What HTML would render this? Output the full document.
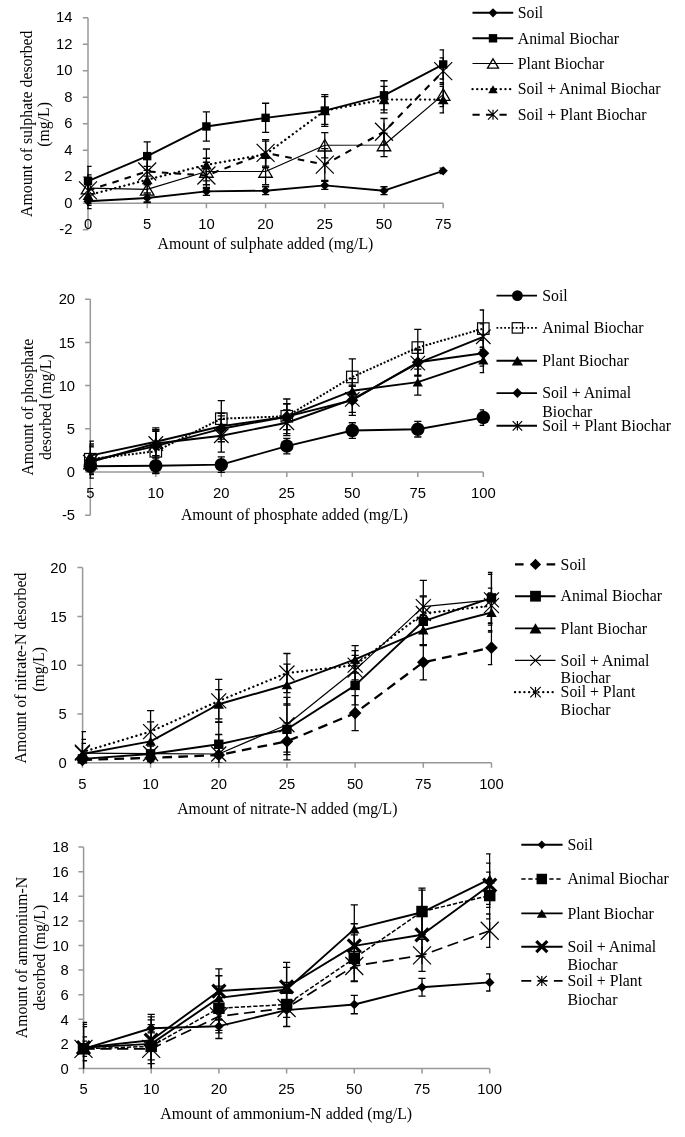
<!DOCTYPE html>
<html><head><meta charset="utf-8"><style>
html,body{margin:0;padding:0;background:#fff;}
svg{display:block;will-change:transform;}
.s{font-family:"Liberation Serif",serif;font-size:15.8px;fill:#000;}
.t{font-family:"Liberation Sans",sans-serif;font-size:14.8px;fill:#000;}
</style></head><body>
<svg width="685" height="1137" viewBox="0 0 685 1137">
<rect width="685" height="1137" fill="#fff"/>
<path d="M88 17.8V229.8" stroke="#989898" stroke-width="1.5" fill="none"/>
<path d="M82.8 229.8H88M82.8 203.3H88M82.8 176.8H88M82.8 150.3H88M82.8 123.8H88M82.8 97.3H88M82.8 70.8H88M82.8 44.3H88M82.8 17.8H88" stroke="#989898" stroke-width="1.5" fill="none"/>
<path d="M88 203.3H443.2" stroke="#989898" stroke-width="1.5" fill="none"/>
<path d="M88 203.3v5M147.2 203.3v5M206.4 203.3v5M265.6 203.3v5M324.8 203.3v5M384 203.3v5M443.2 203.3v5" stroke="#989898" stroke-width="1.5" fill="none"/>
<text x="72.4" y="234.3" class="t" text-anchor="end">-2</text>
<text x="72.4" y="207.8" class="t" text-anchor="end">0</text>
<text x="72.4" y="181.3" class="t" text-anchor="end">2</text>
<text x="72.4" y="154.8" class="t" text-anchor="end">4</text>
<text x="72.4" y="128.3" class="t" text-anchor="end">6</text>
<text x="72.4" y="101.8" class="t" text-anchor="end">8</text>
<text x="72.4" y="75.3" class="t" text-anchor="end">10</text>
<text x="72.4" y="48.8" class="t" text-anchor="end">12</text>
<text x="72.4" y="22.3" class="t" text-anchor="end">14</text>
<text x="88" y="228.8" class="t" text-anchor="middle">0</text>
<text x="147.2" y="228.8" class="t" text-anchor="middle">5</text>
<text x="206.4" y="228.8" class="t" text-anchor="middle">10</text>
<text x="265.6" y="228.8" class="t" text-anchor="middle">20</text>
<text x="324.8" y="228.8" class="t" text-anchor="middle">25</text>
<text x="384" y="228.8" class="t" text-anchor="middle">50</text>
<text x="443.2" y="228.8" class="t" text-anchor="middle">75</text>
<text x="265.4" y="248.5" class="s" text-anchor="middle">Amount of sulphate added (mg/L)</text>
<text transform="translate(31.7 123.7) rotate(-90)" class="s" text-anchor="middle">Amount of sulphate desorbed</text>
<text transform="translate(49.3 124.4) rotate(-90)" class="s" text-anchor="middle">(mg/L)</text>
<clipPath id="clip23"><rect x="87.1" y="17.8" width="357" height="212"/></clipPath>
<g clip-path="url(#clip23)">
<path d="M88 197.34V205.29M84.4 197.34h7.2M84.4 205.29h7.2M147.2 194.03V201.98M143.6 194.03h7.2M143.6 201.98h7.2M206.4 187.4V195.35M202.8 187.4h7.2M202.8 195.35h7.2M265.6 186.74V194.69M262 186.74h7.2M262 194.69h7.2M324.8 181.44V189.39M321.2 181.44h7.2M321.2 189.39h7.2M384 186.74V194.69M380.4 186.74h7.2M380.4 194.69h7.2M443.2 168.19V173.49M439.6 168.19h7.2M439.6 173.49h7.2" stroke="#000" stroke-width="1.3" fill="none"/>
<path d="M88 166.47V195.62M84.4 166.47h7.2M84.4 195.62h7.2M147.2 141.95V170.31M143.6 141.95h7.2M143.6 170.31h7.2M206.4 111.88V141.03M202.8 111.88h7.2M202.8 141.03h7.2M265.6 103.26V132.41M262 103.26h7.2M262 132.41h7.2M324.8 96.64V124.46M321.2 96.64h7.2M321.2 124.46h7.2M384 80.74V109.89M380.4 80.74h7.2M380.4 109.89h7.2M443.2 49.87V79.02M439.6 49.87h7.2M439.6 79.02h7.2" stroke="#000" stroke-width="1.3" fill="none"/>
<path d="M88 174.81V201.31M84.4 174.81h7.2M84.4 201.31h7.2M147.2 176.14V202.64M143.6 176.14h7.2M143.6 202.64h7.2M206.4 158.25V184.75M202.8 158.25h7.2M202.8 184.75h7.2M265.6 158.25V184.75M262 158.25h7.2M262 184.75h7.2M324.8 132.68V157.85M321.2 132.68h7.2M321.2 157.85h7.2M384 133.47V156.53M380.4 133.47h7.2M380.4 156.53h7.2M443.2 82.73V106.58M439.6 82.73h7.2M439.6 106.58h7.2" stroke="#000" stroke-width="1.3" fill="none"/>
<path d="M88 182.1V208.6M84.4 182.1h7.2M84.4 208.6h7.2M147.2 166.47V192.97M143.6 166.47h7.2M143.6 192.97h7.2M206.4 148.98V180.78M202.8 148.98h7.2M202.8 180.78h7.2M265.6 141.03V167.53M262 141.03h7.2M262 167.53h7.2M324.8 94.65V126.45M321.2 94.65h7.2M321.2 126.45h7.2M384 86.3V112.8M380.4 86.3h7.2M380.4 112.8h7.2M443.2 86.3V112.8M439.6 86.3h7.2M439.6 112.8h7.2" stroke="#000" stroke-width="1.3" fill="none"/>
<path d="M88 177.2V203.7M84.4 177.2h7.2M84.4 203.7h7.2M147.2 158.25V184.75M143.6 158.25h7.2M143.6 184.75h7.2M206.4 162.23V188.73M202.8 162.23h7.2M202.8 188.73h7.2M265.6 139.7V166.2M262 139.7h7.2M262 166.2h7.2M324.8 148.71V180.51M321.2 148.71h7.2M321.2 180.51h7.2M384 118.5V145M380.4 118.5h7.2M380.4 145h7.2M443.2 57.95V84.45M439.6 57.95h7.2M439.6 84.45h7.2" stroke="#000" stroke-width="1.3" fill="none"/>
</g>
<polyline points="88,201.31 147.2,198 206.4,191.38 265.6,190.71 324.8,185.41 384,190.71 443.2,170.84" stroke="#000" stroke-width="1.9" fill="none" stroke-linejoin="round"/>
<polyline points="88,181.04 147.2,156.13 206.4,126.45 265.6,117.84 324.8,110.55 384,95.31 443.2,64.44" stroke="#000" stroke-width="1.9" fill="none" stroke-linejoin="round"/>
<polyline points="88,188.06 147.2,189.39 206.4,171.5 265.6,171.5 324.8,145.27 384,145 443.2,94.65" stroke="#000" stroke-width="1.2" fill="none" stroke-linejoin="round"/>
<polyline points="88,195.35 147.2,179.72 206.4,164.88 265.6,154.28 324.8,110.55 384,99.55 443.2,99.55" stroke="#000" stroke-width="2.3" fill="none" stroke-linejoin="round" stroke-dasharray="0.1 4.6" stroke-linecap="round"/>
<polyline points="88,190.45 147.2,171.5 206.4,175.48 265.6,152.95 324.8,164.61 384,131.75 443.2,71.2" stroke="#000" stroke-width="2.1" fill="none" stroke-linejoin="round" stroke-dasharray="6.6 6.2"/>
<path d="M88 196.71L92.6 201.31L88 205.91L83.4 201.31Z" fill="#000"/>
<path d="M147.2 193.4L151.8 198L147.2 202.6L142.6 198Z" fill="#000"/>
<path d="M206.4 186.78L211 191.38L206.4 195.97L201.8 191.38Z" fill="#000"/>
<path d="M265.6 186.11L270.2 190.71L265.6 195.31L261 190.71Z" fill="#000"/>
<path d="M324.8 180.81L329.4 185.41L324.8 190.01L320.2 185.41Z" fill="#000"/>
<path d="M384 186.11L388.6 190.71L384 195.31L379.4 190.71Z" fill="#000"/>
<path d="M443.2 166.24L447.8 170.84L443.2 175.44L438.6 170.84Z" fill="#000"/>
<rect x="83.8" y="176.84" width="8.4" height="8.4" fill="#000"/>
<rect x="143" y="151.93" width="8.4" height="8.4" fill="#000"/>
<rect x="202.2" y="122.25" width="8.4" height="8.4" fill="#000"/>
<rect x="261.4" y="113.64" width="8.4" height="8.4" fill="#000"/>
<rect x="320.6" y="106.35" width="8.4" height="8.4" fill="#000"/>
<rect x="379.8" y="91.11" width="8.4" height="8.4" fill="#000"/>
<rect x="439" y="60.24" width="8.4" height="8.4" fill="#000"/>
<path d="M88 182.32L94.75 193.8L81.25 193.8Z" fill="none" stroke="#000" stroke-width="1.3"/>
<path d="M147.2 183.65L153.95 195.13L140.45 195.13Z" fill="none" stroke="#000" stroke-width="1.3"/>
<path d="M206.4 165.76L213.15 177.24L199.65 177.24Z" fill="none" stroke="#000" stroke-width="1.3"/>
<path d="M265.6 165.76L272.35 177.24L258.85 177.24Z" fill="none" stroke="#000" stroke-width="1.3"/>
<path d="M324.8 139.53L331.55 151L318.05 151Z" fill="none" stroke="#000" stroke-width="1.3"/>
<path d="M384 139.26L390.75 150.74L377.25 150.74Z" fill="none" stroke="#000" stroke-width="1.3"/>
<path d="M443.2 88.91L449.95 100.39L436.45 100.39Z" fill="none" stroke="#000" stroke-width="1.3"/>
<path d="M88 190.76L93.4 199.94L82.6 199.94Z" fill="#000"/>
<path d="M147.2 175.12L152.6 184.31L141.8 184.31Z" fill="#000"/>
<path d="M206.4 160.28L211.8 169.47L201 169.47Z" fill="#000"/>
<path d="M265.6 149.69L271 158.87L260.2 158.87Z" fill="#000"/>
<path d="M324.8 105.96L330.2 115.14L319.4 115.14Z" fill="#000"/>
<path d="M384 94.96L389.4 104.14L378.6 104.14Z" fill="#000"/>
<path d="M443.2 94.96L448.6 104.14L437.8 104.14Z" fill="#000"/>
<path d="M79 181.45L97 199.45M97 181.45L79 199.45M88 181.45L88 199.45" stroke="#000" stroke-width="1.2" fill="none"/>
<path d="M138.2 162.5L156.2 180.5M156.2 162.5L138.2 180.5M147.2 162.5L147.2 180.5" stroke="#000" stroke-width="1.2" fill="none"/>
<path d="M197.4 166.48L215.4 184.48M215.4 166.48L197.4 184.48M206.4 166.48L206.4 184.48" stroke="#000" stroke-width="1.2" fill="none"/>
<path d="M256.6 143.95L274.6 161.95M274.6 143.95L256.6 161.95M265.6 143.95L265.6 161.95" stroke="#000" stroke-width="1.2" fill="none"/>
<path d="M315.8 155.61L333.8 173.61M333.8 155.61L315.8 173.61M324.8 155.61L324.8 173.61" stroke="#000" stroke-width="1.2" fill="none"/>
<path d="M375 122.75L393 140.75M393 122.75L375 140.75M384 122.75L384 140.75" stroke="#000" stroke-width="1.2" fill="none"/>
<path d="M434.2 62.2L452.2 80.2M452.2 62.2L434.2 80.2M443.2 62.2L443.2 80.2" stroke="#000" stroke-width="1.2" fill="none"/>
<path d="M472.5 12.8H513.2" stroke="#000" stroke-width="1.9" fill="none" stroke-linejoin="round"/>
<path d="M493 8.2L497.6 12.8L493 17.4L488.4 12.8Z" fill="#000"/>
<text x="517.8" y="18" class="s">Soil</text>
<path d="M472.5 38.3H513.2" stroke="#000" stroke-width="1.9" fill="none" stroke-linejoin="round"/>
<rect x="488.8" y="34.1" width="8.4" height="8.4" fill="#000"/>
<text x="517.8" y="43.5" class="s">Animal Biochar</text>
<path d="M472.5 63.5H513.2" stroke="#000" stroke-width="1.2" fill="none" stroke-linejoin="round"/>
<path d="M493 58.83L498.5 68.17L487.5 68.17Z" fill="none" stroke="#000" stroke-width="1.3"/>
<text x="517.8" y="68.7" class="s">Plant Biochar</text>
<path d="M472.5 89.2H511" stroke="#000" stroke-width="2.3" fill="none" stroke-linejoin="round" stroke-dasharray="0.1 4.6" stroke-linecap="round"/>
<path d="M493 85.2L497.7 93.2L488.3 93.2Z" fill="#000"/>
<text x="517.8" y="94.4" class="s">Soil + Animal Biochar</text>
<path d="M472.5 114.7H511" stroke="#000" stroke-width="2.1" fill="none" stroke-linejoin="round" stroke-dasharray="7.2 6.3"/>
<path d="M488 109.7L498 119.7M498 109.7L488 119.7M493 109.7L493 119.7" stroke="#000" stroke-width="1.2" fill="none"/>
<text x="517.8" y="119.9" class="s">Soil + Plant Biochar</text>
<path d="M90.3 299.2V515.2" stroke="#989898" stroke-width="1.5" fill="none"/>
<path d="M85.1 515.2H90.3M85.1 472H90.3M85.1 428.8H90.3M85.1 385.6H90.3M85.1 342.4H90.3M85.1 299.2H90.3" stroke="#989898" stroke-width="1.5" fill="none"/>
<path d="M90.3 472H483.3" stroke="#989898" stroke-width="1.5" fill="none"/>
<path d="M90.3 472v5M155.8 472v5M221.3 472v5M286.8 472v5M352.3 472v5M417.8 472v5M483.3 472v5" stroke="#989898" stroke-width="1.5" fill="none"/>
<text x="75.1" y="520.4" class="t" text-anchor="end">-5</text>
<text x="75.1" y="477.2" class="t" text-anchor="end">0</text>
<text x="75.1" y="434" class="t" text-anchor="end">5</text>
<text x="75.1" y="390.8" class="t" text-anchor="end">10</text>
<text x="75.1" y="347.6" class="t" text-anchor="end">15</text>
<text x="75.1" y="304.4" class="t" text-anchor="end">20</text>
<text x="90.3" y="497.5" class="t" text-anchor="middle">5</text>
<text x="155.8" y="497.5" class="t" text-anchor="middle">10</text>
<text x="221.3" y="497.5" class="t" text-anchor="middle">20</text>
<text x="286.8" y="497.5" class="t" text-anchor="middle">25</text>
<text x="352.3" y="497.5" class="t" text-anchor="middle">50</text>
<text x="417.8" y="497.5" class="t" text-anchor="middle">75</text>
<text x="483.3" y="497.5" class="t" text-anchor="middle">100</text>
<text x="294.5" y="520.2" class="s" text-anchor="middle">Amount of phosphate added (mg/L)</text>
<text transform="translate(33.2 407.1) rotate(-90)" class="s" text-anchor="middle">Amount of phosphate</text>
<text transform="translate(50.9 407.2) rotate(-90)" class="s" text-anchor="middle">desorbed (mg/L)</text>
<clipPath id="clip106"><rect x="89.4" y="299.2" width="394.8" height="216"/></clipPath>
<g clip-path="url(#clip106)">
<path d="M90.3 459.3V473.12M86.7 459.3h7.2M86.7 473.12h7.2M155.8 458V473.56M152.2 458h7.2M152.2 473.56h7.2M221.3 456.88V472.43M217.7 456.88h7.2M217.7 472.43h7.2M286.8 438.3V453.86M283.2 438.3h7.2M283.2 453.86h7.2M352.3 422.75V438.3M348.7 422.75h7.2M348.7 438.3h7.2M417.8 421.46V437.01M414.2 421.46h7.2M414.2 437.01h7.2M483.3 409.79V425.34M479.7 409.79h7.2M479.7 425.34h7.2" stroke="#000" stroke-width="1.3" fill="none"/>
<path d="M90.3 444.01V474.42M86.7 444.01h7.2M86.7 474.42h7.2M155.8 429.66V472.86M152.2 429.66h7.2M152.2 472.86h7.2M221.3 400.55V436.84M217.7 400.55h7.2M217.7 436.84h7.2M286.8 398.99V433.55M283.2 398.99h7.2M283.2 433.55h7.2M352.3 358.82V395.1M348.7 358.82h7.2M348.7 395.1h7.2M417.8 329.44V365.73M414.2 329.44h7.2M414.2 365.73h7.2M483.3 310V347.15M479.7 310h7.2M479.7 347.15h7.2" stroke="#000" stroke-width="1.3" fill="none"/>
<path d="M90.3 441.07V470.1M86.7 441.07h7.2M86.7 470.1h7.2M155.8 427.94V455.58M152.2 427.94h7.2M152.2 455.58h7.2M221.3 413.25V439.17M217.7 413.25h7.2M217.7 439.17h7.2M286.8 403.74V429.66M283.2 403.74h7.2M283.2 429.66h7.2M352.3 378.69V402.88M348.7 378.69h7.2M348.7 402.88h7.2M417.8 369.18V395.1M414.2 369.18h7.2M414.2 395.1h7.2M483.3 347.5V372.55M479.7 347.5h7.2M479.7 372.55h7.2" stroke="#000" stroke-width="1.3" fill="none"/>
<path d="M90.3 446.94V474.59M86.7 446.94h7.2M86.7 474.59h7.2M155.8 430.1V462.06M152.2 430.1h7.2M152.2 462.06h7.2M221.3 415.84V441.76M217.7 415.84h7.2M217.7 441.76h7.2M286.8 403.74V429.66M283.2 403.74h7.2M283.2 429.66h7.2M352.3 385.17V415.41M348.7 385.17h7.2M348.7 415.41h7.2M417.8 349.31V375.23M414.2 349.31h7.2M414.2 375.23h7.2M483.3 340.24V366.16M479.7 340.24h7.2M479.7 366.16h7.2" stroke="#000" stroke-width="1.3" fill="none"/>
<path d="M90.3 445.91V478.22M86.7 445.91h7.2M86.7 478.22h7.2M155.8 431.39V455.58M152.2 431.39h7.2M152.2 455.58h7.2M221.3 419.3V452.13M217.7 419.3h7.2M217.7 452.13h7.2M286.8 409.79V435.71M283.2 409.79h7.2M283.2 435.71h7.2M352.3 386.46V412.38M348.7 386.46h7.2M348.7 412.38h7.2M417.8 350.18V376.1M414.2 350.18h7.2M414.2 376.1h7.2M483.3 323.82V349.74M479.7 323.82h7.2M479.7 349.74h7.2" stroke="#000" stroke-width="1.3" fill="none"/>
</g>
<polyline points="90.3,466.21 155.8,465.78 221.3,464.66 286.8,446.08 352.3,430.53 417.8,429.23 483.3,417.57" stroke="#000" stroke-width="1.9" fill="none" stroke-linejoin="round"/>
<polyline points="90.3,459.21 155.8,451.26 221.3,418.69 286.8,416.27 352.3,376.96 417.8,347.58 483.3,328.58" stroke="#000" stroke-width="2.0" fill="none" stroke-linejoin="round" stroke-dasharray="2 1.8"/>
<polyline points="90.3,455.58 155.8,441.76 221.3,426.21 286.8,416.7 352.3,390.78 417.8,382.14 483.3,360.03" stroke="#000" stroke-width="1.9" fill="none" stroke-linejoin="round"/>
<polyline points="90.3,460.77 155.8,446.08 221.3,428.8 286.8,416.7 352.3,400.29 417.8,362.27 483.3,353.2" stroke="#000" stroke-width="1.9" fill="none" stroke-linejoin="round"/>
<polyline points="90.3,462.06 155.8,443.49 221.3,435.71 286.8,422.75 352.3,399.42 417.8,363.14 483.3,336.78" stroke="#000" stroke-width="1.9" fill="none" stroke-linejoin="round"/>
<circle cx="90.3" cy="466.21" r="6.75" fill="#000"/>
<circle cx="155.8" cy="465.78" r="6.75" fill="#000"/>
<circle cx="221.3" cy="464.66" r="6.75" fill="#000"/>
<circle cx="286.8" cy="446.08" r="6.75" fill="#000"/>
<circle cx="352.3" cy="430.53" r="6.75" fill="#000"/>
<circle cx="417.8" cy="429.23" r="6.75" fill="#000"/>
<circle cx="483.3" cy="417.57" r="6.75" fill="#000"/>
<rect x="84.55" y="453.46" width="11.5" height="11.5" fill="none" stroke="#000" stroke-width="1.2"/>
<rect x="150.05" y="445.51" width="11.5" height="11.5" fill="none" stroke="#000" stroke-width="1.2"/>
<rect x="215.55" y="412.94" width="11.5" height="11.5" fill="none" stroke="#000" stroke-width="1.2"/>
<rect x="281.05" y="410.52" width="11.5" height="11.5" fill="none" stroke="#000" stroke-width="1.2"/>
<rect x="346.55" y="371.21" width="11.5" height="11.5" fill="none" stroke="#000" stroke-width="1.2"/>
<rect x="412.05" y="341.83" width="11.5" height="11.5" fill="none" stroke="#000" stroke-width="1.2"/>
<rect x="477.55" y="322.83" width="11.5" height="11.5" fill="none" stroke="#000" stroke-width="1.2"/>
<path d="M90.3 451.21L95.45 459.96L85.15 459.96Z" fill="#000"/>
<path d="M155.8 437.38L160.95 446.14L150.65 446.14Z" fill="#000"/>
<path d="M221.3 421.83L226.45 430.59L216.15 430.59Z" fill="#000"/>
<path d="M286.8 412.33L291.95 421.08L281.65 421.08Z" fill="#000"/>
<path d="M352.3 386.41L357.45 395.16L347.15 395.16Z" fill="#000"/>
<path d="M417.8 377.77L422.95 386.52L412.65 386.52Z" fill="#000"/>
<path d="M483.3 355.65L488.45 364.4L478.15 364.4Z" fill="#000"/>
<path d="M90.3 454.77L96.3 460.77L90.3 466.77L84.3 460.77Z" fill="#000"/>
<path d="M155.8 440.08L161.8 446.08L155.8 452.08L149.8 446.08Z" fill="#000"/>
<path d="M221.3 422.8L227.3 428.8L221.3 434.8L215.3 428.8Z" fill="#000"/>
<path d="M286.8 410.7L292.8 416.7L286.8 422.7L280.8 416.7Z" fill="#000"/>
<path d="M352.3 394.29L358.3 400.29L352.3 406.29L346.3 400.29Z" fill="#000"/>
<path d="M417.8 356.27L423.8 362.27L417.8 368.27L411.8 362.27Z" fill="#000"/>
<path d="M483.3 347.2L489.3 353.2L483.3 359.2L477.3 353.2Z" fill="#000"/>
<path d="M83.05 454.81L97.55 469.31M97.55 454.81L83.05 469.31M90.3 454.81L90.3 469.31" stroke="#000" stroke-width="1.2" fill="none"/>
<path d="M148.55 436.24L163.05 450.74M163.05 436.24L148.55 450.74M155.8 436.24L155.8 450.74" stroke="#000" stroke-width="1.2" fill="none"/>
<path d="M214.05 428.46L228.55 442.96M228.55 428.46L214.05 442.96M221.3 428.46L221.3 442.96" stroke="#000" stroke-width="1.2" fill="none"/>
<path d="M279.55 415.5L294.05 430M294.05 415.5L279.55 430M286.8 415.5L286.8 430" stroke="#000" stroke-width="1.2" fill="none"/>
<path d="M345.05 392.17L359.55 406.67M359.55 392.17L345.05 406.67M352.3 392.17L352.3 406.67" stroke="#000" stroke-width="1.2" fill="none"/>
<path d="M410.55 355.89L425.05 370.39M425.05 355.89L410.55 370.39M417.8 355.89L417.8 370.39" stroke="#000" stroke-width="1.2" fill="none"/>
<path d="M476.05 329.53L490.55 344.03M490.55 329.53L476.05 344.03M483.3 329.53L483.3 344.03" stroke="#000" stroke-width="1.2" fill="none"/>
<path d="M496.5 295.6H537" stroke="#000" stroke-width="1.9" fill="none" stroke-linejoin="round"/>
<circle cx="517.4" cy="295.6" r="5.4" fill="#000"/>
<text x="542.3" y="300.8" class="s">Soil</text>
<path d="M496.5 327.9H537" stroke="#000" stroke-width="1.8" fill="none" stroke-linejoin="round" stroke-dasharray="1.8 2.05"/>
<rect x="512.2" y="322.7" width="10.4" height="10.4" fill="none" stroke="#000" stroke-width="1.2"/>
<text x="542.3" y="333.1" class="s">Animal Biochar</text>
<path d="M496.5 360.8H537" stroke="#000" stroke-width="1.9" fill="none" stroke-linejoin="round"/>
<path d="M517.4 356L523.05 365.6L511.75 365.6Z" fill="#000"/>
<text x="542.3" y="366" class="s">Plant Biochar</text>
<path d="M496.5 393.1H537" stroke="#000" stroke-width="1.9" fill="none" stroke-linejoin="round"/>
<path d="M517.4 388.1L522.4 393.1L517.4 398.1L512.4 393.1Z" fill="#000"/>
<text x="542.3" y="398.3" class="s">Soil + Animal</text>
<text x="542.3" y="416.9" class="s">Biochar</text>
<path d="M496.5 425.8H537" stroke="#000" stroke-width="1.9" fill="none" stroke-linejoin="round"/>
<path d="M512.65 421.05L522.15 430.55M522.15 421.05L512.65 430.55M517.4 421.05L517.4 430.55" stroke="#000" stroke-width="1.2" fill="none"/>
<text x="542.3" y="431" class="s">Soil + Plant Biochar</text>
<path d="M82.6 567.6V762.8" stroke="#989898" stroke-width="1.5" fill="none"/>
<path d="M77.4 762.8H82.6M77.4 714H82.6M77.4 665.2H82.6M77.4 616.4H82.6M77.4 567.6H82.6" stroke="#989898" stroke-width="1.5" fill="none"/>
<path d="M82.6 762.8H491.48" stroke="#989898" stroke-width="1.5" fill="none"/>
<path d="M82.4 762.8v5M150.58 762.8v5M218.76 762.8v5M286.94 762.8v5M355.12 762.8v5M423.3 762.8v5M491.48 762.8v5" stroke="#989898" stroke-width="1.5" fill="none"/>
<text x="66.8" y="768" class="t" text-anchor="end">0</text>
<text x="66.8" y="719.2" class="t" text-anchor="end">5</text>
<text x="66.8" y="670.4" class="t" text-anchor="end">10</text>
<text x="66.8" y="621.6" class="t" text-anchor="end">15</text>
<text x="66.8" y="572.8" class="t" text-anchor="end">20</text>
<text x="82.4" y="788.6" class="t" text-anchor="middle">5</text>
<text x="150.58" y="788.6" class="t" text-anchor="middle">10</text>
<text x="218.76" y="788.6" class="t" text-anchor="middle">20</text>
<text x="286.94" y="788.6" class="t" text-anchor="middle">25</text>
<text x="355.12" y="788.6" class="t" text-anchor="middle">50</text>
<text x="423.3" y="788.6" class="t" text-anchor="middle">75</text>
<text x="491.48" y="788.6" class="t" text-anchor="middle">100</text>
<text x="287.3" y="813.6" class="s" text-anchor="middle">Amount of nitrate-N added (mg/L)</text>
<text transform="translate(25.7 668) rotate(-90)" class="s" text-anchor="middle">Amount of nitrate-N desorbed</text>
<text transform="translate(43.5 669.4) rotate(-90)" class="s" text-anchor="middle">(mg/L)</text>
<clipPath id="clip189"><rect x="81.5" y="567.6" width="410.88" height="195.2"/></clipPath>
<g clip-path="url(#clip189)">
<path d="M82.4 752.06V767.68M78.8 752.06h7.2M78.8 767.68h7.2M150.58 750.11V765.73M146.98 750.11h7.2M146.98 765.73h7.2M218.76 747.18V762.8M215.16 747.18h7.2M215.16 762.8h7.2M286.94 722.78V759.87M283.34 722.78h7.2M283.34 759.87h7.2M355.12 695.55V730.69M351.52 695.55h7.2M351.52 730.69h7.2M423.3 644.7V679.84M419.7 644.7h7.2M419.7 679.84h7.2M491.48 630.55V664.71M487.88 630.55h7.2M487.88 664.71h7.2" stroke="#000" stroke-width="1.3" fill="none"/>
<path d="M82.4 751.09V766.7M78.8 751.09h7.2M78.8 766.7h7.2M150.58 746.21V761.82M146.98 746.21h7.2M146.98 761.82h7.2M218.76 721.81V766.7M215.16 721.81h7.2M215.16 766.7h7.2M286.94 703.95V754.7M283.34 703.95h7.2M283.34 754.7h7.2M355.12 665.88V704.92M351.52 665.88h7.2M351.52 704.92h7.2M423.3 596.88V645.68M419.7 596.88h7.2M419.7 645.68h7.2M491.48 572.48V623.23M487.88 572.48h7.2M487.88 623.23h7.2" stroke="#000" stroke-width="1.3" fill="none"/>
<path d="M82.4 739.38V768.66M78.8 739.38h7.2M78.8 768.66h7.2M150.58 721.81V760.85M146.98 721.81h7.2M146.98 760.85h7.2M218.76 689.6V718.88M215.16 689.6h7.2M215.16 718.88h7.2M286.94 664.22V705.22M283.34 664.22h7.2M283.34 705.22h7.2M355.12 645.68V673.01M351.52 645.68h7.2M351.52 673.01h7.2M423.3 615.42V644.7M419.7 615.42h7.2M419.7 644.7h7.2M491.48 592.98V632.02M487.88 592.98h7.2M487.88 632.02h7.2" stroke="#000" stroke-width="1.3" fill="none"/>
<path d="M82.4 743.28V762.8M78.8 743.28h7.2M78.8 762.8h7.2M150.58 743.77V763.29M146.98 743.77h7.2M146.98 763.29h7.2M218.76 734.5V773.54M215.16 734.5h7.2M215.16 773.54h7.2M286.94 697.41V752.06M283.34 697.41h7.2M283.34 752.06h7.2M355.12 655.44V684.72M351.52 655.44h7.2M351.52 684.72h7.2M423.3 580.29V632.99M419.7 580.29h7.2M419.7 632.99h7.2M491.48 574.43V625.18M487.88 574.43h7.2M487.88 625.18h7.2" stroke="#000" stroke-width="1.3" fill="none"/>
<path d="M82.4 731.57V772.56M78.8 731.57h7.2M78.8 772.56h7.2M150.58 710.58V752.55M146.98 710.58h7.2M146.98 752.55h7.2M218.76 679.45V722.39M215.16 679.45h7.2M215.16 722.39h7.2M286.94 653.49V692.53M283.34 653.49h7.2M283.34 692.53h7.2M355.12 650.56V679.84M351.52 650.56h7.2M351.52 679.84h7.2M423.3 595.9V631.04M419.7 595.9h7.2M419.7 631.04h7.2M491.48 588.1V623.23M487.88 588.1h7.2M487.88 623.23h7.2" stroke="#000" stroke-width="1.3" fill="none"/>
</g>
<polyline points="82.4,759.87 150.58,757.92 218.76,754.99 286.94,741.33 355.12,713.12 423.3,662.27 491.48,647.63" stroke="#000" stroke-width="2.3" fill="none" stroke-linejoin="round" stroke-dasharray="9.7 6.3"/>
<polyline points="82.4,758.9 150.58,754.02 218.76,744.26 286.94,729.32 355.12,685.4 423.3,621.28 491.48,597.86" stroke="#000" stroke-width="1.9" fill="none" stroke-linejoin="round"/>
<polyline points="82.4,754.02 150.58,741.33 218.76,704.24 286.94,684.72 355.12,659.34 423.3,630.06 491.48,612.5" stroke="#000" stroke-width="1.9" fill="none" stroke-linejoin="round"/>
<polyline points="82.4,753.04 150.58,753.53 218.76,754.02 286.94,724.74 355.12,670.08 423.3,606.64 491.48,599.81" stroke="#000" stroke-width="1.2" fill="none" stroke-linejoin="round"/>
<polyline points="82.4,752.06 150.58,731.57 218.76,700.92 286.94,673.01 355.12,665.2 423.3,613.47 491.48,605.66" stroke="#000" stroke-width="2.3" fill="none" stroke-linejoin="round" stroke-dasharray="0.1 4.6" stroke-linecap="round"/>
<path d="M82.4 753.57L88.7 759.87L82.4 766.17L76.1 759.87Z" fill="#000"/>
<path d="M150.58 751.62L156.88 757.92L150.58 764.22L144.28 757.92Z" fill="#000"/>
<path d="M218.76 748.69L225.06 754.99L218.76 761.29L212.46 754.99Z" fill="#000"/>
<path d="M286.94 735.03L293.24 741.33L286.94 747.63L280.64 741.33Z" fill="#000"/>
<path d="M355.12 706.82L361.42 713.12L355.12 719.42L348.82 713.12Z" fill="#000"/>
<path d="M423.3 655.97L429.6 662.27L423.3 668.57L417 662.27Z" fill="#000"/>
<path d="M491.48 641.33L497.78 647.63L491.48 653.93L485.18 647.63Z" fill="#000"/>
<rect x="77.7" y="754.2" width="9.4" height="9.4" fill="#000"/>
<rect x="145.88" y="749.32" width="9.4" height="9.4" fill="#000"/>
<rect x="214.06" y="739.56" width="9.4" height="9.4" fill="#000"/>
<rect x="282.24" y="724.62" width="9.4" height="9.4" fill="#000"/>
<rect x="350.42" y="680.7" width="9.4" height="9.4" fill="#000"/>
<rect x="418.6" y="616.58" width="9.4" height="9.4" fill="#000"/>
<rect x="486.78" y="593.16" width="9.4" height="9.4" fill="#000"/>
<path d="M82.4 749.55L87.65 758.48L77.15 758.48Z" fill="#000"/>
<path d="M150.58 736.87L155.83 745.79L145.33 745.79Z" fill="#000"/>
<path d="M218.76 699.78L224.01 708.7L213.51 708.7Z" fill="#000"/>
<path d="M286.94 680.26L292.19 689.18L281.69 689.18Z" fill="#000"/>
<path d="M355.12 654.88L360.37 663.81L349.87 663.81Z" fill="#000"/>
<path d="M423.3 625.6L428.55 634.53L418.05 634.53Z" fill="#000"/>
<path d="M491.48 608.03L496.73 616.96L486.23 616.96Z" fill="#000"/>
<path d="M74.9 745.54L89.9 760.54M89.9 745.54L74.9 760.54" stroke="#000" stroke-width="1.2" fill="none"/>
<path d="M143.08 746.03L158.08 761.03M158.08 746.03L143.08 761.03" stroke="#000" stroke-width="1.2" fill="none"/>
<path d="M211.26 746.52L226.26 761.52M226.26 746.52L211.26 761.52" stroke="#000" stroke-width="1.2" fill="none"/>
<path d="M279.44 717.24L294.44 732.24M294.44 717.24L279.44 732.24" stroke="#000" stroke-width="1.2" fill="none"/>
<path d="M347.62 662.58L362.62 677.58M362.62 662.58L347.62 677.58" stroke="#000" stroke-width="1.2" fill="none"/>
<path d="M415.8 599.14L430.8 614.14M430.8 599.14L415.8 614.14" stroke="#000" stroke-width="1.2" fill="none"/>
<path d="M483.98 592.31L498.98 607.31M498.98 592.31L483.98 607.31" stroke="#000" stroke-width="1.2" fill="none"/>
<path d="M74.9 744.56L89.9 759.56M89.9 744.56L74.9 759.56M82.4 744.56L82.4 759.56" stroke="#000" stroke-width="1.2" fill="none"/>
<path d="M143.08 724.07L158.08 739.07M158.08 724.07L143.08 739.07M150.58 724.07L150.58 739.07" stroke="#000" stroke-width="1.2" fill="none"/>
<path d="M211.26 693.42L226.26 708.42M226.26 693.42L211.26 708.42M218.76 693.42L218.76 708.42" stroke="#000" stroke-width="1.2" fill="none"/>
<path d="M279.44 665.51L294.44 680.51M294.44 665.51L279.44 680.51M286.94 665.51L286.94 680.51" stroke="#000" stroke-width="1.2" fill="none"/>
<path d="M347.62 657.7L362.62 672.7M362.62 657.7L347.62 672.7M355.12 657.7L355.12 672.7" stroke="#000" stroke-width="1.2" fill="none"/>
<path d="M415.8 605.97L430.8 620.97M430.8 605.97L415.8 620.97M423.3 605.97L423.3 620.97" stroke="#000" stroke-width="1.2" fill="none"/>
<path d="M483.98 598.16L498.98 613.16M498.98 598.16L483.98 613.16M491.48 598.16L491.48 613.16" stroke="#000" stroke-width="1.2" fill="none"/>
<path d="M515 564.4H555.5" stroke="#000" stroke-width="2.3" fill="none" stroke-linejoin="round" stroke-dasharray="8.6 7.2"/>
<path d="M535.5 558.8L541.1 564.4L535.5 570L529.9 564.4Z" fill="#000"/>
<text x="560.6" y="569.6" class="s">Soil</text>
<path d="M515 596.2H555.5" stroke="#000" stroke-width="1.9" fill="none" stroke-linejoin="round"/>
<rect x="530.1" y="590.8" width="10.8" height="10.8" fill="#000"/>
<text x="560.6" y="601.4" class="s">Animal Biochar</text>
<path d="M515 628.4H555.5" stroke="#000" stroke-width="1.9" fill="none" stroke-linejoin="round"/>
<path d="M535.5 623.3L541.5 633.5L529.5 633.5Z" fill="#000"/>
<text x="560.6" y="633.6" class="s">Plant Biochar</text>
<path d="M515 660.3H555.5" stroke="#000" stroke-width="1.2" fill="none" stroke-linejoin="round"/>
<path d="M530.25 655.05L540.75 665.55M540.75 655.05L530.25 665.55" stroke="#000" stroke-width="1.2" fill="none"/>
<text x="560.6" y="665.5" class="s">Soil + Animal</text>
<text x="560.6" y="683.4" class="s">Biochar</text>
<path d="M515 692.2H555.5" stroke="#000" stroke-width="2.3" fill="none" stroke-linejoin="round" stroke-dasharray="0.1 4.6" stroke-linecap="round"/>
<path d="M530.25 686.95L540.75 697.45M540.75 686.95L530.25 697.45M535.5 686.95L535.5 697.45" stroke="#000" stroke-width="1.2" fill="none"/>
<text x="560.6" y="697.4" class="s">Soil + Plant</text>
<text x="560.6" y="715.3" class="s">Biochar</text>
<path d="M83.6 847.1V1068.5" stroke="#989898" stroke-width="1.5" fill="none"/>
<path d="M78.4 1068.5H83.6M78.4 1043.9H83.6M78.4 1019.3H83.6M78.4 994.7H83.6M78.4 970.1H83.6M78.4 945.5H83.6M78.4 920.9H83.6M78.4 896.3H83.6M78.4 871.7H83.6M78.4 847.1H83.6" stroke="#989898" stroke-width="1.5" fill="none"/>
<path d="M83.6 1068.5H489.7" stroke="#989898" stroke-width="1.5" fill="none"/>
<path d="M83.5 1068.5v5M151.2 1068.5v5M218.9 1068.5v5M286.6 1068.5v5M354.3 1068.5v5M422 1068.5v5M489.7 1068.5v5" stroke="#989898" stroke-width="1.5" fill="none"/>
<text x="68.8" y="1073.7" class="t" text-anchor="end">0</text>
<text x="68.8" y="1049.1" class="t" text-anchor="end">2</text>
<text x="68.8" y="1024.5" class="t" text-anchor="end">4</text>
<text x="68.8" y="999.9" class="t" text-anchor="end">6</text>
<text x="68.8" y="975.3" class="t" text-anchor="end">8</text>
<text x="68.8" y="950.7" class="t" text-anchor="end">10</text>
<text x="68.8" y="926.1" class="t" text-anchor="end">12</text>
<text x="68.8" y="901.5" class="t" text-anchor="end">14</text>
<text x="68.8" y="876.9" class="t" text-anchor="end">16</text>
<text x="68.8" y="852.3" class="t" text-anchor="end">18</text>
<text x="83.5" y="1094.4" class="t" text-anchor="middle">5</text>
<text x="151.2" y="1094.4" class="t" text-anchor="middle">10</text>
<text x="218.9" y="1094.4" class="t" text-anchor="middle">20</text>
<text x="286.6" y="1094.4" class="t" text-anchor="middle">25</text>
<text x="354.3" y="1094.4" class="t" text-anchor="middle">50</text>
<text x="422" y="1094.4" class="t" text-anchor="middle">75</text>
<text x="489.7" y="1094.4" class="t" text-anchor="middle">100</text>
<text x="286.2" y="1118.5" class="s" text-anchor="middle">Amount of ammonium-N added (mg/L)</text>
<text transform="translate(27 957.5) rotate(-90)" class="s" text-anchor="middle">Amount of ammonium-N</text>
<text transform="translate(44.7 957.7) rotate(-90)" class="s" text-anchor="middle">desorbed (mg/L)</text>
<clipPath id="clip278"><rect x="82.6" y="847.1" width="408" height="221.4"/></clipPath>
<g clip-path="url(#clip278)">
<path d="M83.5 1041.19V1056.45M79.9 1041.19h7.2M79.9 1056.45h7.2M151.2 1024.59V1031.97M147.6 1024.59h7.2M147.6 1031.97h7.2M218.9 1019.42V1032.95M215.3 1019.42h7.2M215.3 1032.95h7.2M286.6 1002.7V1017.46M283 1002.7h7.2M283 1017.46h7.2M354.3 995.32V1013.76M350.7 995.32h7.2M350.7 1013.76h7.2M422 978.46V996.18M418.4 978.46h7.2M418.4 996.18h7.2M489.7 973.79V991.01M486.1 973.79h7.2M486.1 991.01h7.2" stroke="#000" stroke-width="1.3" fill="none"/>
<path d="M83.5 1036.89V1060.75M79.9 1036.89h7.2M79.9 1060.75h7.2M151.2 1032.83V1059.89M147.6 1032.83h7.2M147.6 1059.89h7.2M218.9 986.09V1030.37M215.3 986.09h7.2M215.3 1030.37h7.2M286.6 982.4V1026.68M283 982.4h7.2M283 1026.68h7.2M354.3 934.92V981.66M350.7 934.92h7.2M350.7 981.66h7.2M422 888.18V934.92M418.4 888.18h7.2M418.4 934.92h7.2M489.7 872.19V918.93M486.1 872.19h7.2M486.1 918.93h7.2" stroke="#000" stroke-width="1.3" fill="none"/>
<path d="M83.5 1022.38V1072.81M79.9 1022.38h7.2M79.9 1072.81h7.2M151.2 1014.38V1073.42M147.6 1014.38h7.2M147.6 1073.42h7.2M218.9 975.76V1020.04M215.3 975.76h7.2M215.3 1020.04h7.2M286.6 967.39V1011.67M283 967.39h7.2M283 1011.67h7.2M354.3 904.91V953.37M350.7 904.91h7.2M350.7 953.37h7.2M422 890.15V934.43M418.4 890.15h7.2M418.4 934.43h7.2M489.7 853.87V904.29M486.1 853.87h7.2M486.1 904.29h7.2" stroke="#000" stroke-width="1.3" fill="none"/>
<path d="M83.5 1024.34V1070.84M79.9 1024.34h7.2M79.9 1070.84h7.2M151.2 1016.84V1063.58M147.6 1016.84h7.2M147.6 1063.58h7.2M218.9 968.87V1013.15M215.3 968.87h7.2M215.3 1013.15h7.2M286.6 962.35V1011.55M283 962.35h7.2M283 1011.55h7.2M354.3 923.73V968.01M350.7 923.73h7.2M350.7 968.01h7.2M422 912.66V956.94M418.4 912.66h7.2M418.4 956.94h7.2M489.7 863.09V907.37M486.1 863.09h7.2M486.1 907.37h7.2" stroke="#000" stroke-width="1.3" fill="none"/>
<path d="M83.5 1026.56V1071.08M79.9 1026.56h7.2M79.9 1071.08h7.2M151.2 1019.91V1077.72M147.6 1019.91h7.2M147.6 1077.72h7.2M218.9 994.21V1038.49M215.3 994.21h7.2M215.3 1038.49h7.2M286.6 989.53V1026.43M283 989.53h7.2M283 1026.43h7.2M354.3 951.28V980.8M350.7 951.28h7.2M350.7 980.8h7.2M422 939.35V971.33M418.4 939.35h7.2M418.4 971.33h7.2M489.7 914.01V947.47M486.1 914.01h7.2M486.1 947.47h7.2" stroke="#000" stroke-width="1.3" fill="none"/>
</g>
<polyline points="83.5,1048.82 151.2,1028.28 218.9,1026.19 286.6,1010.08 354.3,1004.54 422,987.32 489.7,982.4" stroke="#000" stroke-width="1.9" fill="none" stroke-linejoin="round"/>
<polyline points="83.5,1048.82 151.2,1046.36 218.9,1008.23 286.6,1004.54 354.3,958.29 422,911.55 489.7,895.56" stroke="#000" stroke-width="1.5" fill="none" stroke-linejoin="round" stroke-dasharray="4.3 1.9"/>
<polyline points="83.5,1047.59 151.2,1043.9 218.9,997.9 286.6,989.53 354.3,929.14 422,912.29 489.7,879.08" stroke="#000" stroke-width="1.9" fill="none" stroke-linejoin="round"/>
<polyline points="83.5,1047.59 151.2,1040.21 218.9,991.01 286.6,986.95 354.3,945.87 422,934.8 489.7,885.23" stroke="#000" stroke-width="1.9" fill="none" stroke-linejoin="round"/>
<polyline points="83.5,1048.82 151.2,1048.82 218.9,1016.35 286.6,1007.98 354.3,966.04 422,955.34 489.7,930.74" stroke="#000" stroke-width="1.7" fill="none" stroke-linejoin="round" stroke-dasharray="11.2 5.6"/>
<path d="M83.5 1044.02L88.3 1048.82L83.5 1053.62L78.7 1048.82Z" fill="#000"/>
<path d="M151.2 1023.48L156 1028.28L151.2 1033.08L146.4 1028.28Z" fill="#000"/>
<path d="M218.9 1021.39L223.7 1026.19L218.9 1030.99L214.1 1026.19Z" fill="#000"/>
<path d="M286.6 1005.28L291.4 1010.08L286.6 1014.88L281.8 1010.08Z" fill="#000"/>
<path d="M354.3 999.74L359.1 1004.54L354.3 1009.34L349.5 1004.54Z" fill="#000"/>
<path d="M422 982.52L426.8 987.32L422 992.12L417.2 987.32Z" fill="#000"/>
<path d="M489.7 977.6L494.5 982.4L489.7 987.2L484.9 982.4Z" fill="#000"/>
<rect x="77.75" y="1043.07" width="11.5" height="11.5" fill="#000"/>
<rect x="145.45" y="1040.61" width="11.5" height="11.5" fill="#000"/>
<rect x="213.15" y="1002.48" width="11.5" height="11.5" fill="#000"/>
<rect x="280.85" y="998.79" width="11.5" height="11.5" fill="#000"/>
<rect x="348.55" y="952.54" width="11.5" height="11.5" fill="#000"/>
<rect x="416.25" y="905.8" width="11.5" height="11.5" fill="#000"/>
<rect x="483.95" y="889.81" width="11.5" height="11.5" fill="#000"/>
<path d="M83.5 1043.13L88.75 1052.05L78.25 1052.05Z" fill="#000"/>
<path d="M151.2 1039.44L156.45 1048.36L145.95 1048.36Z" fill="#000"/>
<path d="M218.9 993.44L224.15 1002.36L213.65 1002.36Z" fill="#000"/>
<path d="M286.6 985.07L291.85 994L281.35 994Z" fill="#000"/>
<path d="M354.3 924.68L359.55 933.6L349.05 933.6Z" fill="#000"/>
<path d="M422 907.83L427.25 916.75L416.75 916.75Z" fill="#000"/>
<path d="M489.7 874.62L494.95 883.54L484.45 883.54Z" fill="#000"/>
<path d="M77 1041.09L90 1054.09M90 1041.09L77 1054.09" stroke="#000" stroke-width="3.2" fill="none"/>
<path d="M144.7 1033.71L157.7 1046.71M157.7 1033.71L144.7 1046.71" stroke="#000" stroke-width="3.2" fill="none"/>
<path d="M212.4 984.51L225.4 997.51M225.4 984.51L212.4 997.51" stroke="#000" stroke-width="3.2" fill="none"/>
<path d="M280.1 980.45L293.1 993.45M293.1 980.45L280.1 993.45" stroke="#000" stroke-width="3.2" fill="none"/>
<path d="M347.8 939.37L360.8 952.37M360.8 939.37L347.8 952.37" stroke="#000" stroke-width="3.2" fill="none"/>
<path d="M415.5 928.3L428.5 941.3M428.5 928.3L415.5 941.3" stroke="#000" stroke-width="3.2" fill="none"/>
<path d="M483.2 878.73L496.2 891.73M496.2 878.73L483.2 891.73" stroke="#000" stroke-width="3.2" fill="none"/>
<path d="M74.5 1039.82L92.5 1057.82M92.5 1039.82L74.5 1057.82M83.5 1039.82L83.5 1057.82" stroke="#000" stroke-width="1.2" fill="none"/>
<path d="M142.2 1039.82L160.2 1057.82M160.2 1039.82L142.2 1057.82M151.2 1039.82L151.2 1057.82" stroke="#000" stroke-width="1.2" fill="none"/>
<path d="M209.9 1007.35L227.9 1025.35M227.9 1007.35L209.9 1025.35M218.9 1007.35L218.9 1025.35" stroke="#000" stroke-width="1.2" fill="none"/>
<path d="M277.6 998.98L295.6 1016.98M295.6 998.98L277.6 1016.98M286.6 998.98L286.6 1016.98" stroke="#000" stroke-width="1.2" fill="none"/>
<path d="M345.3 957.04L363.3 975.04M363.3 957.04L345.3 975.04M354.3 957.04L354.3 975.04" stroke="#000" stroke-width="1.2" fill="none"/>
<path d="M413 946.34L431 964.34M431 946.34L413 964.34M422 946.34L422 964.34" stroke="#000" stroke-width="1.2" fill="none"/>
<path d="M480.7 921.74L498.7 939.74M498.7 921.74L480.7 939.74M489.7 921.74L489.7 939.74" stroke="#000" stroke-width="1.2" fill="none"/>
<path d="M521.3 844.8H562.6" stroke="#000" stroke-width="1.9" fill="none" stroke-linejoin="round"/>
<path d="M541.8 840.6L546 844.8L541.8 849L537.6 844.8Z" fill="#000"/>
<text x="567.4" y="850" class="s">Soil</text>
<path d="M521.3 879H562.6" stroke="#000" stroke-width="1.5" fill="none" stroke-linejoin="round" stroke-dasharray="4.3 2.7"/>
<rect x="536.55" y="873.75" width="10.5" height="10.5" fill="#000"/>
<text x="567.4" y="884.2" class="s">Animal Biochar</text>
<path d="M521.3 913.4H562.6" stroke="#000" stroke-width="1.9" fill="none" stroke-linejoin="round"/>
<path d="M541.8 909.15L546.8 917.65L536.8 917.65Z" fill="#000"/>
<text x="567.4" y="918.6" class="s">Plant Biochar</text>
<path d="M521.3 946.7H562.6" stroke="#000" stroke-width="1.9" fill="none" stroke-linejoin="round"/>
<path d="M536.3 941.2L547.3 952.2M547.3 941.2L536.3 952.2" stroke="#000" stroke-width="3.2" fill="none"/>
<text x="567.4" y="951.9" class="s">Soil + Animal</text>
<text x="567.4" y="970.4" class="s">Biochar</text>
<path d="M521.3 980.9H562.6" stroke="#000" stroke-width="1.7" fill="none" stroke-linejoin="round" stroke-dasharray="10 6.3"/>
<path d="M536.8 975.9L546.8 985.9M546.8 975.9L536.8 985.9M541.8 975.9L541.8 985.9" stroke="#000" stroke-width="1.2" fill="none"/>
<text x="567.4" y="986.1" class="s">Soil + Plant</text>
<text x="567.4" y="1005.1" class="s">Biochar</text>
</svg>
</body></html>
